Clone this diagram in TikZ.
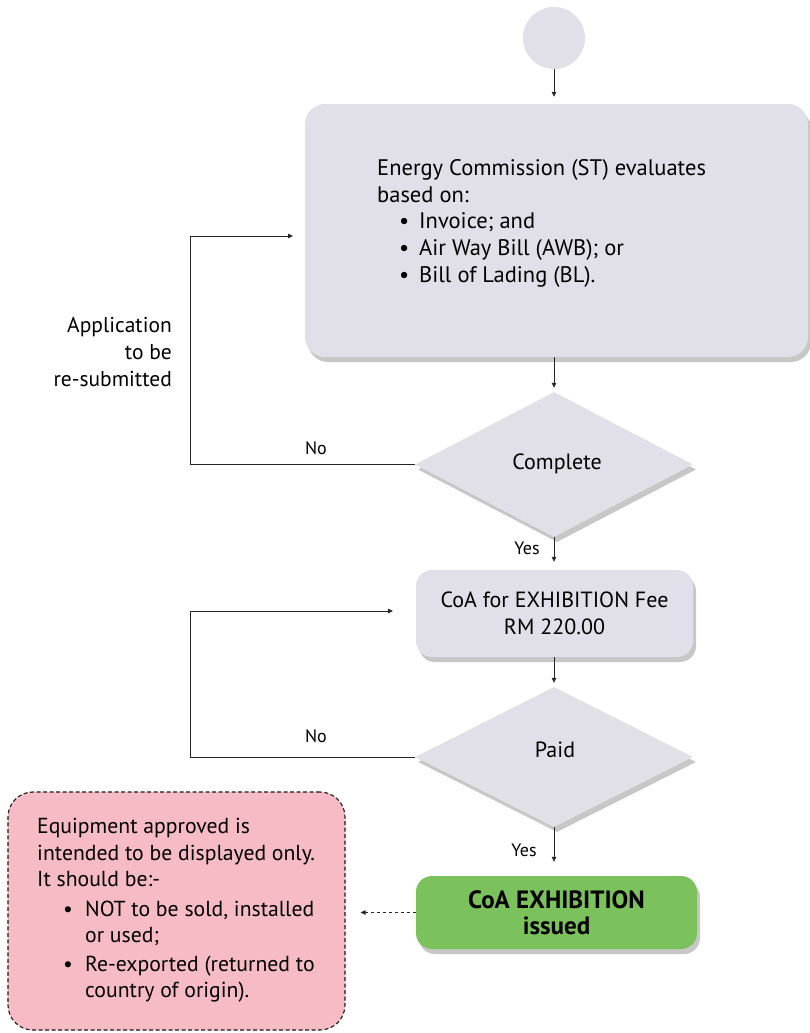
\documentclass[tikz,border=0pt]{standalone}
\usepackage{fontspec}
\setmainfont{PT Sans}
\usetikzlibrary{shapes.geometric,arrows.meta,shadows}
\definecolor{boxgray}{HTML}{E1E0E8}
\definecolor{pinkbox}{HTML}{F7BBC5}
\definecolor{greenbox}{HTML}{7BC25C}
\begin{document}
\begin{tikzpicture}[x=1pt,y=-1pt,
  font=\fontsize{22.5}{26.8}\selectfont,
  shad/.style={drop shadow={shadow xshift=3pt,shadow yshift=-5pt,opacity=0.22,fill=black}},
  proc/.style={fill=boxgray,rounded corners=20pt,inner sep=0pt,shad},
  dec/.style={shape=diamond,fill=boxgray,inner sep=0pt,shad},
  arr/.style={draw=black!85,line width=0.8pt,-{Triangle[length=5pt,width=4.5pt]}},
  lbl/.style={font=\fontsize{18}{20}\selectfont,inner sep=0pt}]
\useasboundingbox (0,0) rectangle (810,1033);
\node[circle,fill=boxgray,minimum size=62pt,inner sep=0pt] (start) at (554,38) {};
\node[proc,minimum width=503pt,minimum height=253pt] (eval) at (556.5,230.5) {};
\node[anchor=north west,align=left,inner sep=0pt] (evaltxt) at (377,159)
  {Energy Commission (ST) evaluates\\based on:\\
   \hspace*{22pt}\makebox[20pt][l]{\textbullet}Invoice; and\\
   \hspace*{22pt}\makebox[20pt][l]{\textbullet}Air Way Bill (AWB); or\\
   \hspace*{22pt}\makebox[20pt][l]{\textbullet}Bill of Lading (BL).};
\node[dec,minimum width=278pt,minimum height=145pt] (d1) at (554,464.5) {};
\node[font=\fontsize{22}{26}\selectfont] (d1txt) at (557,464) {Complete};
\node[proc,rounded corners=16pt,minimum width=277pt,minimum height=87pt,align=center,
  font=\fontsize{22}{27}\selectfont] (fee) at (554.5,613.5) {CoA for EXHIBITION Fee\\RM 220.00};
\node[dec,minimum width=278pt,minimum height=140pt] (d2) at (554,757) {};
\node[font=\fontsize{22}{26}\selectfont] (d2txt) at (555,750) {Paid};
\node[fill=greenbox,rounded corners=16pt,minimum width=281pt,minimum height=73pt,inner sep=0pt,
  align=center,shad,font=\bfseries\fontsize{25}{26}\selectfont] (issued) at (556.5,912.5)
  {CoA EXHIBITION\\issued};
\node[fill=pinkbox,draw=black!90,dash pattern=on 4pt off 2.5pt,line width=1.1pt,rounded corners=25pt,
  minimum width=337pt,minimum height=238pt,inner sep=0pt] (note) at (176.5,911) {};
\node[anchor=north west,align=left,inner sep=0pt,font=\fontsize{21.7}{26.5}\selectfont] (notetxt) at (37,818)
  {Equipment approved is\\intended to be displayed only.\\It should be:-\\[3pt]
   \hspace*{26pt}\makebox[22pt][l]{\textbullet}NOT to be sold, installed\\
   \hspace*{48pt}or used;\\[2pt]
   \hspace*{26pt}\makebox[22pt][l]{\textbullet}Re-exported (returned to\\
   \hspace*{48pt}country of origin).};
\node[anchor=north east,align=right,inner sep=0pt,font=\fontsize{21.5}{26.8}\selectfont] (resub) at (172,317)
  {Application\\to be\\re-submitted};
\coordinate (r1) at (293,236);
\coordinate (r2) at (393,611);
\draw[arr,shorten >=7pt] (start.south) -- (start.south |- eval.north);
\draw[arr,shorten >=4pt] (d1.north |- eval.south) -- (d1.north);
\draw[arr,shorten >=8pt] (d1.south) -- (d1.south |- fee.north);
\draw[arr,shorten >=4pt] (fee.south -| d2.north) -- (d2.north);
\draw[arr,shorten >=14pt] (d2.south) -- (d2.south |- issued.north);
\draw[arr] (d1.west) -- (190,464.5) |- (r1);
\draw[arr] (d2.west) -- (190,757) |- (r2);
\draw[arr,dashed,shorten >=15pt] (issued.west) -- (issued.west -| note.east);
\node[lbl] (no1) at (316,448) {No};
\node[lbl] (no2) at (316,736) {No};
\node[lbl] (yes1) at (527,548) {Yes};
\node[lbl] (yes2) at (524,850) {Yes};
\end{tikzpicture}
\end{document}
